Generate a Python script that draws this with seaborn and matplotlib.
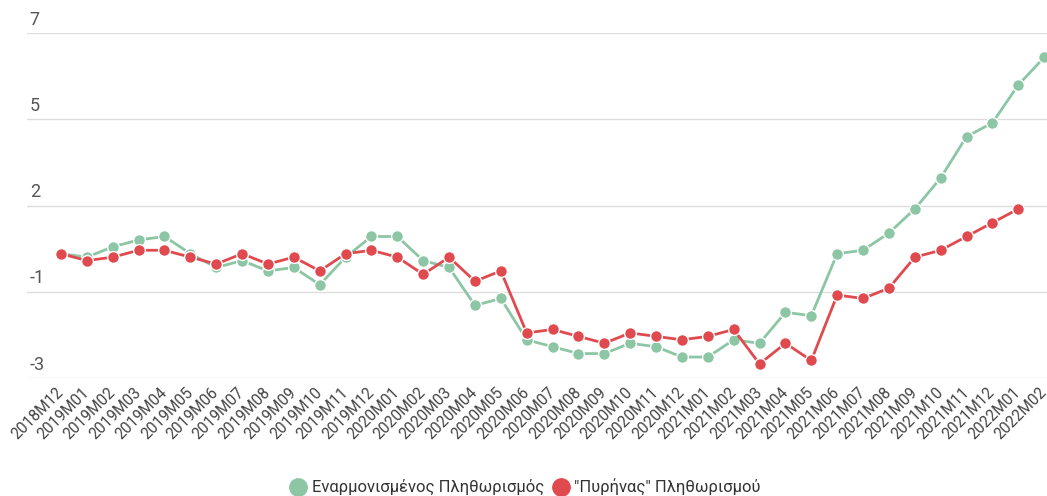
import numpy as np
import pandas as pd
import matplotlib
matplotlib.use("Agg")
import matplotlib.pyplot as plt
import matplotlib.transforms as mtransforms
from matplotlib.lines import Line2D
import seaborn as sns

months = ["2018M12",
          "2019M01", "2019M02", "2019M03", "2019M04", "2019M05", "2019M06",
          "2019M07", "2019M08", "2019M09", "2019M10", "2019M11", "2019M12",
          "2020M01", "2020M02", "2020M03", "2020M04", "2020M05", "2020M06",
          "2020M07", "2020M08", "2020M09", "2020M10", "2020M11", "2020M12",
          "2021M01", "2021M02", "2021M03", "2021M04", "2021M05", "2021M06",
          "2021M07", "2021M08", "2021M09", "2021M10", "2021M11", "2021M12",
          "2022M01", "2022M02"]

hicp = [0.6, 0.5, 0.8, 1.0, 1.1, 0.6, 0.2, 0.4, 0.1, 0.2, -0.3, 0.5, 1.1,
        1.1, 0.4, 0.2, -0.9, -0.7, -1.9, -2.1, -2.3, -2.3, -2.0, -2.1, -2.4,
        -2.4, -1.9, -2.0, -1.1, -1.2, 0.6, 0.7, 1.2, 1.9, 2.8, 4.0, 4.4,
        5.5, 6.3]

core = [0.6, 0.4, 0.5, 0.7, 0.7, 0.5, 0.3, 0.6, 0.3, 0.5, 0.1, 0.6, 0.7,
        0.5, 0.0, 0.5, -0.2, 0.1, -1.7, -1.6, -1.8, -2.0, -1.7, -1.8, -1.9,
        -1.8, -1.6, -2.6, -2.0, -2.5, -0.6, -0.7, -0.4, 0.5, 0.7, 1.1, 1.5,
        1.9, np.nan]

series_names = ["Εναρμονισμένος Πληθωρισμός", "\"Πυρήνας\" Πληθωρισμού"]
y_ticks = [-3, -0.5, 2, 4.5, 7]
y_tick_labels = ["-3", "-1", "2", "5", "7"]

colors = ["#8cc6a4", "#e04a4f"]

sns.set_theme(style="white")
plt.rcParams["font.family"] = ["Roboto", "DejaVu Sans"]

idx = np.arange(len(months))
df = pd.DataFrame({
    "idx": np.concatenate([idx, idx]),
    "value": hicp + core,
    "series": [series_names[0]] * len(months) + [series_names[1]] * len(months),
})

fig = plt.figure(figsize=(10.47, 4.96), dpi=100)
ax = fig.add_axes([27 / 1047, (496 - 377.7) / 496, 1020 / 1047, 344.4 / 496])

sns.lineplot(data=df, x="idx", y="value", hue="series", palette=colors,
             hue_order=series_names, marker="o", markersize=8.5,
             markeredgecolor="white", markeredgewidth=1.0, linewidth=2.0,
             legend=False, ax=ax, zorder=3)

ax.set_xlim(-1.314, 38.11)
ax.set_ylim(-3, 7)

for s in ax.spines.values():
    s.set_visible(False)

ax.set_yticks(y_ticks)
ax.set_yticklabels(y_tick_labels, fontsize=13, color="#555555")
ax.yaxis.grid(True, color="#dddddd", linewidth=1.0)
ax.tick_params(axis="y", length=0, pad=-2)
offset = mtransforms.ScaledTranslation(0, 3 / 72, fig.dpi_scale_trans)
for lab in ax.get_yticklabels():
    lab.set_horizontalalignment("left")
    lab.set_verticalalignment("bottom")
    lab.set_transform(lab.get_transform() + offset)

ax.set_xticks(idx)
ax.set_xticklabels(months, rotation=45, ha="right", va="center",
                   rotation_mode="anchor", fontsize=11.2, color="#444444")
ax.tick_params(axis="x", length=0, pad=9)
ax.set_xlabel("")
ax.set_ylabel("")

handles = [Line2D([], [], linestyle="none", marker="o", markersize=12.5,
                  markerfacecolor=c, markeredgecolor=c) for c in colors]
fig.legend(handles, series_names, loc="center", bbox_to_anchor=(0.5, 9 / 496),
           ncol=2, frameon=False, fontsize=12, handletextpad=0.1,
           columnspacing=0.3, handlelength=1.4, labelcolor="#333333")

fig.savefig("out.png", dpi=100)
